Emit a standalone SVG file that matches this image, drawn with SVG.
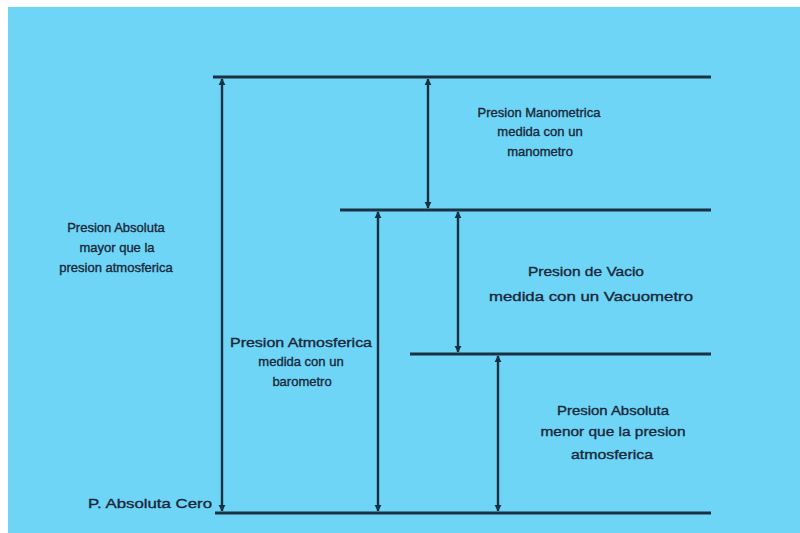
<svg xmlns="http://www.w3.org/2000/svg" width="800" height="533" viewBox="0 0 800 533">
<defs>
<marker id="ah" viewBox="0 0 10 10" refX="9" refY="5" markerWidth="3" markerHeight="3.2" orient="auto-start-reverse" markerUnits="strokeWidth">
<path d="M0,0 L10,5 L0,10 Z" fill="#1a3043"/>
</marker>
<style>
.lvl{stroke:#1a3043;stroke-width:3;fill:none}
.arr{stroke:#1a3043;stroke-width:2.4;fill:none;marker-start:url(#ah);marker-end:url(#ah)}
text{font-family:"Liberation Sans",Arial,sans-serif;fill:#18283a;stroke:#18283a;stroke-width:0.35;text-anchor:middle;font-size:13px}
</style>
</defs>
<rect x="0" y="0" width="800" height="533" fill="#ffffff"/>
<rect x="8" y="7" width="792" height="526" fill="#6fd5f6"/>
<g id="levels">
<line id="lvl-top" class="lvl" x1="213" y1="77" x2="711" y2="77"/>
<line id="lvl-atm" class="lvl" x1="340" y1="210" x2="711" y2="210"/>
<line id="lvl-vac" class="lvl" x1="410" y1="354" x2="711" y2="354"/>
<line id="lvl-zero" class="lvl" x1="215" y1="513" x2="711" y2="513"/>
</g>
<g id="connectors">
<line class="arr" x1="222" y1="79" x2="222" y2="511"/>
<line class="arr" x1="428" y1="79" x2="428" y2="208"/>
<line class="arr" x1="378" y1="212" x2="378" y2="511"/>
<line class="arr" x1="458" y1="212" x2="458" y2="352"/>
<line class="arr" x1="498" y1="356" x2="498" y2="511"/>
</g>
<g id="manometrica">
<text x="539" y="117">Presion Manometrica</text>
<text x="540" y="136">medida con un</text>
<text x="540" y="156">manometro</text>
</g>
<g id="absoluta-mayor">
<text x="116" y="232">Presion Absoluta</text>
<text x="117" y="252">mayor que la</text>
<text x="116" y="272">presion atmosferica</text>
</g>
<g id="atmosferica">
<text x="301" y="347" font-size="14" textLength="142" lengthAdjust="spacingAndGlyphs">Presion Atmosferica</text>
<text x="301" y="366" font-size="14">medida con un</text>
<text x="302" y="386" font-size="14">barometro</text>
</g>
<g id="vacio">
<text x="586" y="276" font-size="14" textLength="116" lengthAdjust="spacingAndGlyphs">Presion de Vacio</text>
<text x="591" y="301" font-size="14" textLength="204" lengthAdjust="spacingAndGlyphs">medida con un Vacuometro</text>
</g>
<g id="absoluta-menor">
<text x="613" y="415" font-size="14" textLength="112" lengthAdjust="spacingAndGlyphs">Presion Absoluta</text>
<text x="613" y="436" font-size="14" textLength="145" lengthAdjust="spacingAndGlyphs">menor que la presion</text>
<text x="612" y="459" font-size="14" textLength="82" lengthAdjust="spacingAndGlyphs">atmosferica</text>
</g>
<g id="cero">
<text x="150" y="508" font-size="14" textLength="124" lengthAdjust="spacingAndGlyphs">P. Absoluta Cero</text>
</g>
</svg>
